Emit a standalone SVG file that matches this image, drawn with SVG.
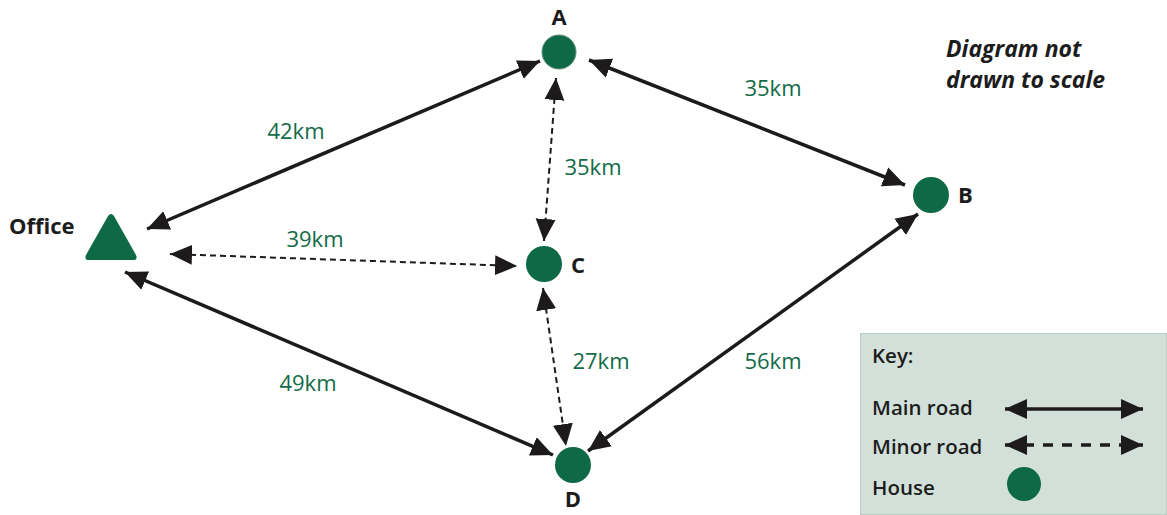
<svg xmlns="http://www.w3.org/2000/svg" width="1167" height="515" viewBox="0 0 1167 515">
<style>
.lbl{font-family:"Open Sans","Liberation Sans",sans-serif;font-weight:700;font-size:22px;fill:#1c1c1c}
.note{font-family:"Open Sans","Liberation Sans",sans-serif;font-weight:700;font-style:italic;font-size:23px;fill:#1c1c1c}
.km{font-family:"Open Sans","Liberation Sans",sans-serif;font-size:22px;fill:#136b48}
.key{font-family:"Open Sans","Liberation Sans",sans-serif;font-weight:600;font-size:20.5px;fill:#1c1c1c}
.house{fill:#0e6946}
.main{stroke:#1c1a1a;stroke-width:3.5;fill:none;marker-start:url(#ah);marker-end:url(#ah)}
.minor{stroke:#1c1a1a;stroke-width:2;stroke-dasharray:6 4;fill:none;marker-start:url(#ah);marker-end:url(#ah)}
</style>
<defs>
<marker id="ah" markerUnits="userSpaceOnUse" markerWidth="24" markerHeight="22" viewBox="0 0 24 22" refX="22" refY="11" orient="auto-start-reverse">
<path d="M0,1 L22,11 L0,21 Z" fill="#1c1a1a"/>
</marker>
</defs>
<rect width="1167" height="515" fill="#fff"/>
<g id="connectors">
<line class="main" x1="147" y1="229" x2="540" y2="61"/>
<line class="main" x1="589" y1="60" x2="905" y2="185"/>
<line class="minor" x1="556" y1="78" x2="544" y2="241"/>
<line class="minor" x1="170" y1="254" x2="517" y2="266"/>
<line class="main" x1="125" y1="272" x2="553" y2="455"/>
<line class="minor" x1="543" y1="288" x2="566" y2="446"/>
<line class="main" x1="918" y1="214" x2="588" y2="451"/>
</g>
<g id="labels">
<text class="km" x="296" y="139" text-anchor="middle">42km</text>
<text class="km" x="773" y="96" text-anchor="middle">35km</text>
<text class="km" x="593" y="175" text-anchor="middle">35km</text>
<text class="km" x="315" y="247" text-anchor="middle">39km</text>
<text class="km" x="601" y="369" text-anchor="middle">27km</text>
<text class="km" x="773" y="369" text-anchor="middle">56km</text>
<text class="km" x="308" y="391" text-anchor="middle">49km</text>
</g>
<g id="office">
<path d="M108,216 Q111,212 114,216 L136,255 Q138,260 133,260 L89,260 Q84,260 86,255 Z" class="house"/>
<text class="lbl" x="9" y="234">Office</text>
</g>
<g id="A">
<circle class="house" cx="559" cy="52" r="17" stroke="#5d8f78" stroke-width="1"/>
<text class="lbl" x="559" y="25" text-anchor="middle">A</text>
</g>
<g id="B">
<circle class="house" cx="931" cy="195" r="18"/>
<text class="lbl" x="958" y="203">B</text>
</g>
<g id="C">
<circle class="house" cx="544" cy="264" r="18"/>
<text class="lbl" x="571" y="273">C</text>
</g>
<g id="D">
<circle class="house" cx="573" cy="465" r="18"/>
<text class="lbl" x="573" y="507" text-anchor="middle">D</text>
</g>
<g id="note">
<text class="note" x="946" y="57">Diagram not</text>
<text class="note" x="946" y="88">drawn to scale</text>
</g>
<g id="key">
<rect x="860.5" y="333.5" width="306" height="181" fill="#d3e0da" stroke="#b9cbc2" stroke-width="1"/>
<text class="key" x="872" y="363">Key:</text>
<text class="key" x="872" y="415">Main road</text>
<text class="key" x="872" y="454">Minor road</text>
<text class="key" x="872" y="495">House</text>
<line class="main" x1="1005" y1="409" x2="1143" y2="409"/>
<line class="minor" x1="1005" y1="445" x2="1143" y2="445" style="stroke-width:3.5;stroke-dasharray:10 9"/>
<circle class="house" cx="1024" cy="484" r="17"/>
</g>
</svg>
